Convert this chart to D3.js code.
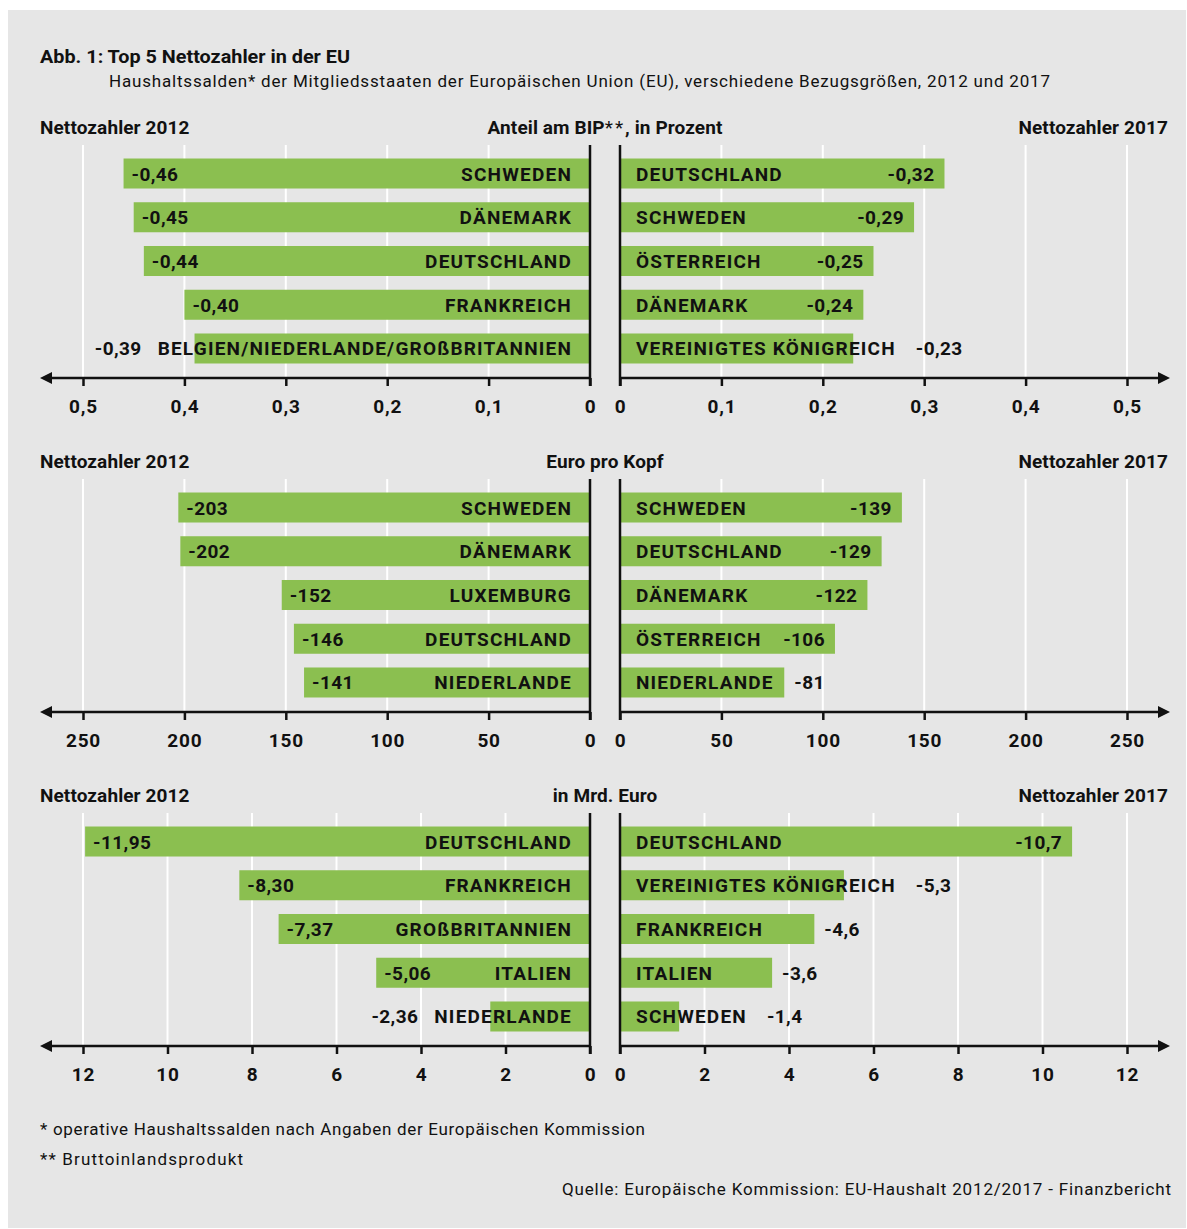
<!DOCTYPE html>
<html lang="de">
<head>
<meta charset="utf-8">
<title>Top 5 Nettozahler in der EU</title>
<script src="https://cdn.jsdelivr.net/npm/d3@7"></script>
<style>
  body{margin:0;background:#fff;}
  svg{display:block;}
  text{font-family:Roboto,"DejaVu Sans Condensed",sans-serif;fill:#111;}
</style>
</head>
<body>
<div id="chart"></div>
<script>
// Top 5 Nettozahler in der EU, 2012 vs 2017, drei Bezugsgrößen
const bipLeftNames = ['SCHWEDEN','DÄNEMARK','DEUTSCHLAND','FRANKREICH','BELGIEN/NIEDERLANDE/GROßBRITANNIEN'];
const bipLeftValues = [-0.46,-0.45,-0.44,-0.40,-0.39];
const bipRightNames = ['DEUTSCHLAND','SCHWEDEN','ÖSTERREICH','DÄNEMARK','VEREINIGTES KÖNIGREICH'];
const bipRightValues = [-0.32,-0.29,-0.25,-0.24,-0.23];
const bipTicks = [0,0.1,0.2,0.3,0.4,0.5];

const kopfLeftNames = ['SCHWEDEN','DÄNEMARK','LUXEMBURG','DEUTSCHLAND','NIEDERLANDE'];
const kopfLeftValues = [-203,-202,-152,-146,-141];
const kopfRightNames = ['SCHWEDEN','DEUTSCHLAND','DÄNEMARK','ÖSTERREICH','NIEDERLANDE'];
const kopfRightValues = [-139,-129,-122,-106,-81];
const kopfTicks = [0,50,100,150,200,250];

const mrdLeftNames = ['DEUTSCHLAND','FRANKREICH','GROßBRITANNIEN','ITALIEN','NIEDERLANDE'];
const mrdLeftValues = [-11.95,-8.30,-7.37,-5.06,-2.36];
const mrdRightNames = ['DEUTSCHLAND','VEREINIGTES KÖNIGREICH','FRANKREICH','ITALIEN','SCHWEDEN'];
const mrdRightValues = [-10.7,-5.3,-4.6,-3.6,-1.4];
const mrdTicks = [0,2,4,6,8,10,12];

const panelTitles = [['Anteil am BIP','**',', in Prozent'], ['Euro pro Kopf'], ['in Mrd. Euro']];
const sideTitles = ['Nettozahler 2012','Nettozahler 2017'];

(function(){
  const W = 1187, H = 1229;
  const green = '#8bbf50', bg = '#e6e6e6', ink = '#111';
  const de = d3.formatLocale({decimal:',', thousands:'.', grouping:[3], currency:['','€'], minus:'-'});
  const f1 = de.format('.1f');

  const panels = [
    {title: panelTitles[0], left: {names: bipLeftNames, values: bipLeftValues, fmt: de.format('.2f')},
     right: {names: bipRightNames, values: bipRightValues, fmt: de.format('.2f')}, ticks: bipTicks,
     tickFmt: d => d === 0 ? '0' : f1(d)},
    {title: panelTitles[1], left: {names: kopfLeftNames, values: kopfLeftValues, fmt: de.format('d')},
     right: {names: kopfRightNames, values: kopfRightValues, fmt: de.format('d')}, ticks: kopfTicks, tickFmt: de.format('d')},
    {title: panelTitles[2], left: {names: mrdLeftNames, values: mrdLeftValues, fmt: de.format('.2f')},
     right: {names: mrdRightNames, values: mrdRightValues, fmt: de.format('.1f')}, ticks: mrdTicks, tickFmt: de.format('d')}
  ];

  const svg = d3.select('#chart').append('svg')
    .attr('width', W)
    .attr('height', H);

  svg.append('rect')
    .attr('x', 8).attr('y', 10)
    .attr('width', W - 9).attr('height', H - 11)
    .attr('fill', bg);

  // title block
  svg.append('text')
    .attr('x', 40).attr('y', 63)
    .attr('font-size', '19px').attr('font-weight', 'bold')
    .attr('textLength', 310).attr('lengthAdjust', 'spacingAndGlyphs')
    .text('Abb. 1: Top 5 Nettozahler in der EU');
  svg.append('text')
    .attr('x', 109).attr('y', 87)
    .attr('font-size', '17px')
    .attr('textLength', 941).attr('lengthAdjust', 'spacing')
    .text('Haushaltssalden* der Mitgliedsstaaten der Europäischen Union (EU), verschiedene Bezugsgrößen, 2012 und 2017');

  const nameFont = {size: '19px', spacing: '1.2px'};
  const valFont = {size: '19px', spacing: '0.4px'};
  const headFont = {size: '19px', spacing: '0.1px'};

  function drawPanel(p, i){
    const g = svg.append('g').attr('transform', `translate(0,${i*334})`);
    const max = d3.max(p.ticks);
    const xL = d3.scaleLinear().domain([0, max]).range([590, 83]);
    const xR = d3.scaleLinear().domain([0, max]).range([620, 1127]);
    const y = d3.scaleBand().domain(d3.range(5)).range([158.5, 363.5]).paddingInner(0.314);
    const axisY = 378, gridTop = 145;

    // headers
    g.append('text').attr('x', 40).attr('y', 134)
      .attr('font-size', headFont.size).attr('letter-spacing', headFont.spacing)
      .attr('font-weight', 'bold').text(sideTitles[0]);
    g.append('text').attr('x', 1168).attr('y', 134).attr('text-anchor', 'end')
      .attr('font-size', headFont.size).attr('letter-spacing', headFont.spacing)
      .attr('font-weight', 'bold').text(sideTitles[1]);
    const t = g.append('text').attr('x', 605).attr('y', 134).attr('text-anchor', 'middle')
      .attr('font-size', headFont.size).attr('letter-spacing', headFont.spacing)
      .attr('font-weight', 'bold');
    p.title.forEach((s, k) => {
      t.append('tspan')
        .attr('font-weight', k === 1 ? 'normal' : 'bold')
        .attr('letter-spacing', k === 1 ? '2px' : null)
        .text(s);
    });

    // white grid lines
    g.selectAll('line.gl').data(p.ticks.filter(d => d > 0)).enter().append('line')
      .attr('x1', d => xL(d)).attr('x2', d => xL(d))
      .attr('y1', gridTop).attr('y2', axisY)
      .attr('stroke', '#fff').attr('stroke-width', 2);
    g.selectAll('line.gr').data(p.ticks.filter(d => d > 0)).enter().append('line')
      .attr('x1', d => xR(d)).attr('x2', d => xR(d))
      .attr('y1', gridTop).attr('y2', axisY)
      .attr('stroke', '#fff').attr('stroke-width', 2);

    // bars
    g.selectAll('rect.bl').data(p.left.values).enter().append('rect')
      .attr('x', d => xL(Math.abs(d)))
      .attr('y', (d, k) => y(k))
      .attr('width', d => xL(0) - xL(Math.abs(d)))
      .attr('height', y.bandwidth())
      .attr('fill', green);
    g.selectAll('rect.br').data(p.right.values).enter().append('rect')
      .attr('x', xR(0))
      .attr('y', (d, k) => y(k))
      .attr('width', d => xR(Math.abs(d)) - xR(0))
      .attr('height', y.bandwidth())
      .attr('fill', green);

    // axes
    [[xL, -1], [xR, 1]].forEach(([x, dir]) => {
      const ax = g.append('g')
        .attr('transform', `translate(0,${axisY})`)
        .call(d3.axisBottom(x).tickValues(p.ticks).tickSize(8).tickPadding(14).tickFormat(p.tickFmt));
      ax.attr('font-size', null).attr('font-family', null);
      ax.select('.domain').remove();
      ax.selectAll('.tick line').attr('stroke', ink).attr('stroke-width', 2.5);
      ax.selectAll('.tick text').attr('font-size', '19px').attr('font-weight', 'bold')
        .attr('letter-spacing', '0.8px');

      const x0 = x(0), tip = x(max) + dir * 43;
      g.append('line')
        .attr('x1', x0).attr('x2', tip - dir * 8)
        .attr('y1', axisY).attr('y2', axisY)
        .attr('stroke', ink).attr('stroke-width', 2.5);
      g.append('path')
        .attr('d', `M${tip},${axisY}L${tip - dir * 12},${axisY - 6}L${tip - dir * 12},${axisY + 6}Z`)
        .attr('fill', ink);
      // zero line
      g.append('line')
        .attr('x1', x0).attr('x2', x0)
        .attr('y1', gridTop).attr('y2', axisY + 8)
        .attr('stroke', ink).attr('stroke-width', 2.5);
    });

    // labels left
    p.left.values.forEach((v, k) => {
      const cy = y(k) + y.bandwidth() / 2 + 7;
      const nm = g.append('text').attr('x', xL(0) - 18).attr('y', cy)
        .attr('text-anchor', 'end').attr('font-weight', 'bold')
        .attr('font-size', nameFont.size).attr('letter-spacing', nameFont.spacing)
        .text(p.left.names[k]);
      const nameStart = xL(0) - 18 - nm.node().getComputedTextLength();
      const vt = g.append('text').attr('y', cy).attr('font-weight', 'bold')
        .attr('font-size', valFont.size).attr('letter-spacing', valFont.spacing)
        .text(p.left.fmt(v));
      const vw = vt.node().getComputedTextLength();
      const bx = xL(Math.abs(v));
      if (bx + 8 + vw + 14 <= nameStart) vt.attr('x', bx + 8);
      else vt.attr('x', nameStart - 16).attr('text-anchor', 'end');
    });

    // labels right
    p.right.values.forEach((v, k) => {
      const cy = y(k) + y.bandwidth() / 2 + 7;
      const nm = g.append('text').attr('x', xR(0) + 16).attr('y', cy)
        .attr('font-weight', 'bold')
        .attr('font-size', nameFont.size).attr('letter-spacing', nameFont.spacing)
        .text(p.right.names[k]);
      const nameEnd = xR(0) + 16 + nm.node().getComputedTextLength();
      const vt = g.append('text').attr('y', cy).attr('font-weight', 'bold')
        .attr('font-size', valFont.size).attr('letter-spacing', valFont.spacing)
        .text(p.right.fmt(v));
      const vw = vt.node().getComputedTextLength();
      const bx = xR(Math.abs(v));
      if (bx - 10 - vw >= nameEnd + 14) vt.attr('x', bx - 10).attr('text-anchor', 'end');
      else vt.attr('x', Math.max(bx + 10, nameEnd + 20));
    });
  }

  panels.forEach(drawPanel);

  // footnotes
  const notes = svg.append('g').attr('font-size', '17px');
  notes.append('text').attr('x', 40).attr('y', 1135)
    .attr('textLength', 605).attr('lengthAdjust', 'spacing')
    .text('* operative Haushaltssalden nach Angaben der Europäischen Kommission');
  notes.append('text').attr('x', 40).attr('y', 1165)
    .attr('textLength', 203).attr('lengthAdjust', 'spacing')
    .text('** Bruttoinlandsprodukt');
  notes.append('text').attr('x', 562).attr('y', 1195)
    .attr('textLength', 609).attr('lengthAdjust', 'spacing')
    .text('Quelle: Europäische Kommission: EU-Haushalt 2012/2017 - Finanzbericht');
})();
</script>
</body>
</html>
